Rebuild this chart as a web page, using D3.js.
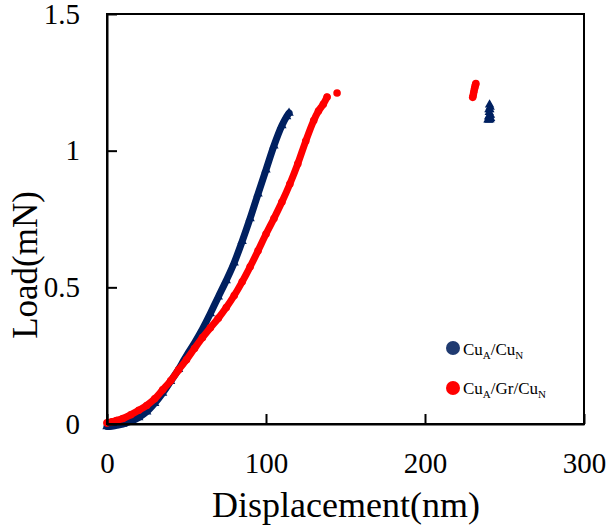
<!DOCTYPE html>
<html>
<head>
<meta charset="utf-8">
<script src="https://cdn.jsdelivr.net/npm/d3@7"></script>
<style>
  body { margin: 0; background: #fff; }
  text { font-family: "Liberation Serif", "Times New Roman", serif; fill: #000; }
</style>
</head>
<body>
<svg id="chart" width="609" height="529"></svg>
<script>
// Axis ticks
const xTicks = [0, 100, 200, 300];
const yTicks = [0, 0.5, 1, 1.5];

// Cu_A/Cu_N loading curve: displacement (nm) and load (mN)
const cuCuDisp = [0, 3, 6, 10, 15, 20, 25, 30, 35, 40, 45, 48, 50, 55, 58.5, 60, 65, 70, 75, 80, 85, 90, 95, 100, 105, 110, 113, 114.5];
const cuCuLoad = [-0.009, -0.008, -0.005, 0.000, 0.010, 0.024, 0.045, 0.076, 0.113, 0.156, 0.200, 0.230, 0.250, 0.296, 0.331, 0.347, 0.404, 0.465, 0.525, 0.590, 0.668, 0.752, 0.842, 0.930, 1.018, 1.092, 1.125, 1.138];
// Cu_A/Cu_N points after the pop-in
const cuCuTailDisp = [239.6, 240.2, 240.9, 240.0, 240.6, 241.2, 240.4, 240.8, 241.0, 240.6, 240.2, 241.3];
const cuCuTailLoad = [1.113, 1.112, 1.114, 1.124, 1.128, 1.130, 1.140, 1.150, 1.160, 1.168, 1.150, 1.118];

// Cu_A/Gr/Cu_N loading curve
const cuGrCuDisp = [0, 3, 6, 10, 15, 20, 25, 30, 35, 40, 45, 50, 55, 60, 65, 70, 75, 80, 85, 90, 95, 100, 105, 110, 115, 120, 125, 130, 133, 136, 138.4];
const cuGrCuLoad = [0.004, 0.008, 0.013, 0.020, 0.034, 0.050, 0.068, 0.092, 0.125, 0.158, 0.198, 0.235, 0.276, 0.316, 0.352, 0.387, 0.426, 0.470, 0.520, 0.575, 0.634, 0.695, 0.752, 0.812, 0.878, 0.952, 1.035, 1.110, 1.145, 1.170, 1.196];
// Cu_A/Gr/Cu_N isolated points
const cuGrCuTailDisp = [144.7, 230.0, 230.3, 230.6, 230.9, 231.2, 231.5, 231.8, 232.0];
const cuGrCuTailLoad = [1.211, 1.195, 1.203, 1.212, 1.220, 1.228, 1.236, 1.242, 1.246];

const navy = "#002060";
const red = "#ff0000";

const svg = d3.select("#chart");
const x = d3.scaleLinear().domain([0, 300]).range([107, 584]);
const y = d3.scaleLinear().domain([0, 1.5]).range([424, 14]);

const zip = (a, b) => a.map((v, i) => [v, b[i]]);

// Curves: a thick trace plus a marker at every sample
const line = d3.line().x(d => x(d[0])).y(d => y(d[1])).curve(d3.curveMonotoneX);

function drawSeries(pts, tail, color, symbol, size) {
  svg.append("path")
    .datum(pts)
    .attr("d", line)
    .attr("fill", "none")
    .attr("stroke", color)
    .attr("stroke-width", 7)
    .attr("stroke-linecap", "round")
    .attr("stroke-linejoin", "round");
  const sym = d3.symbol().type(symbol).size(size);
  svg.append("g").selectAll("path")
    .data(pts.concat(tail))
    .join("path")
    .attr("d", sym)
    .attr("transform", d => `translate(${x(d[0])},${y(d[1])})`)
    .attr("fill", color);
}

drawSeries(zip(cuCuDisp, cuCuLoad), zip(cuCuTailDisp, cuCuTailLoad), navy, d3.symbolTriangle, 38);
drawSeries(zip(cuGrCuDisp, cuGrCuLoad), zip(cuGrCuTailDisp, cuGrCuTailLoad), red, d3.symbolCircle, 45);

// Frame
svg.append("rect")
  .attr("x", x(0)).attr("y", y(1.5))
  .attr("width", x(300) - x(0)).attr("height", y(0) - y(1.5))
  .attr("fill", "none").attr("stroke", "#000").attr("stroke-width", 2);

// Axes with inward ticks
const xAxis = svg.append("g")
  .attr("transform", `translate(0,${y(0)})`)
  .call(d3.axisBottom(x).tickValues(xTicks).tickFormat(d3.format("d"))
    .tickSize(-10).tickSizeOuter(0).tickPadding(28));
const yAxis = svg.append("g")
  .attr("transform", `translate(${x(0)},0)`)
  .call(d3.axisLeft(y).tickValues(yTicks).tickFormat(d => String(d))
    .tickSize(-10).tickSizeOuter(0).tickPadding(27));

[xAxis, yAxis].forEach(g => {
  g.select(".domain").attr("stroke", "#000").attr("stroke-width", 2);
  g.selectAll(".tick line").attr("stroke", "#000").attr("stroke-width", 2);
  g.selectAll(".tick text")
    .style("font-family", '"Liberation Serif", serif')
    .style("font-size", "29px")
    .attr("fill", "#000");
});

// Axis titles
svg.append("text")
  .attr("x", 346).attr("y", 517)
  .attr("text-anchor", "middle")
  .style("font-size", "36px")
  .text("Displacement(nm)");
svg.append("text")
  .attr("transform", "translate(37,265) rotate(-90)")
  .attr("text-anchor", "middle")
  .style("font-size", "35px")
  .text("Load(mN)");

// Legend
const legend = [
  { color: "#1f3a70", cy: 348, base: 355, parts: [["Cu", ""], ["A", "sub"], ["/Cu", ""], ["N", "sub"]] },
  { color: red, cy: 388, base: 394, parts: [["Cu", ""], ["A", "sub"], ["/Gr/Cu", ""], ["N", "sub"]] }
];
legend.forEach(item => {
  svg.append("circle").attr("cx", 453).attr("cy", item.cy).attr("r", 7).attr("fill", item.color);
  const t = svg.append("text").attr("x", 463).attr("y", item.base).style("font-size", "17px");
  item.parts.forEach(([s, kind]) => {
    const ts = t.append("tspan").text(s);
    if (kind === "sub") ts.attr("dy", 4).style("font-size", "11px");
    else ts.attr("dy", t.selectAll("tspan").size() > 1 ? -4 : 0);
  });
});
</script>
</body>
</html>
